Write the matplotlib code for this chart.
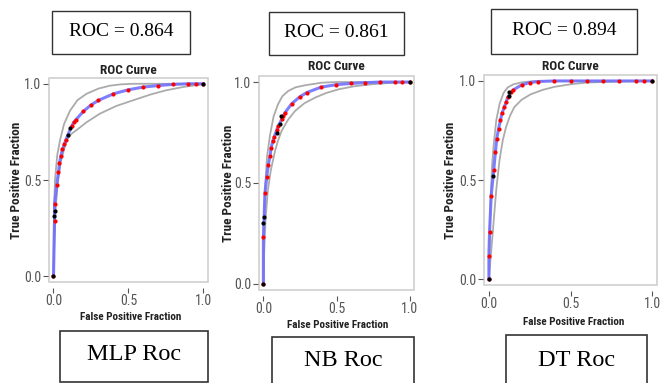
import matplotlib
matplotlib.use('Agg')
import matplotlib.pyplot as plt
from matplotlib import font_manager
from matplotlib.patches import Rectangle

W, H = 666, 383

models = ['MLP Roc', 'NB Roc', 'DT Roc']
auc_labels = ['ROC = 0.864', 'ROC = 0.861', 'ROC = 0.894']

# red threshold points (FPR, TPR)
mlp_fpr = [0.0, 0.007, 0.007, 0.022, 0.033, 0.04, 0.049, 0.06, 0.073, 0.082, 0.121, 0.137, 0.15,
           0.2, 0.25, 0.3, 0.4, 0.5, 0.6, 0.7, 0.8, 0.9, 0.95, 1.0]
mlp_tpr = [0.0, 0.287, 0.373, 0.476, 0.54, 0.588, 0.625, 0.66, 0.686, 0.708, 0.78, 0.802, 0.814,
           0.857, 0.89, 0.914, 0.948, 0.969, 0.983, 0.991, 0.997, 1.0, 1.0, 1.0]
nb_fpr = [0.0, 0.0, 0.011, 0.023, 0.034, 0.046, 0.053, 0.064, 0.075, 0.091, 0.103, 0.126, 0.137,
          0.148, 0.194, 0.247, 0.297, 0.395, 0.498, 0.598, 0.696, 0.8, 0.9, 0.95, 1.0]
nb_tpr = [0.0, 0.231, 0.451, 0.53, 0.59, 0.636, 0.674, 0.707, 0.73, 0.762, 0.784, 0.816, 0.833,
          0.849, 0.893, 0.926, 0.948, 0.975, 0.987, 0.993, 0.997, 1.0, 1.0, 1.0, 1.0]
dt_fpr = [0.0, 0.0, 0.004, 0.014, 0.03, 0.04, 0.048, 0.059, 0.071, 0.081, 0.095, 0.105, 0.115,
          0.135, 0.15, 0.2, 0.25, 0.3, 0.4, 0.5, 0.6, 0.7, 0.8, 0.9, 0.95, 1.0]
dt_tpr = [0.0, 0.117, 0.237, 0.42, 0.553, 0.642, 0.708, 0.758, 0.803, 0.838, 0.87, 0.892, 0.917,
          0.942, 0.955, 0.98, 0.992, 0.997, 1.0, 1.0, 1.0, 1.0, 1.0, 1.0, 1.0, 1.0]

# black points
mlp_bx = [0.0, 0.004, 0.01, 0.1, 0.11, 1.0]
mlp_by = [0.0, 0.313, 0.34, 0.735, 0.77, 1.0]
nb_bx = [0.0, 0.0, 0.007, 0.091, 0.114, 0.12, 1.0]
nb_by = [0.0, 0.303, 0.333, 0.75, 0.79, 0.833, 1.0]
dt_bx = [0.0, 0.028, 0.125, 0.125, 1.0]
dt_by = [0.0, 0.52, 0.925, 0.942, 1.0]

# confidence band, upper and lower
mlp_up_x = [0.0, 0.003, 0.01, 0.025, 0.044, 0.07, 0.11, 0.16, 0.22, 0.3, 0.375, 0.45, 0.53, 0.7, 1.0]
mlp_up_y = [0.0, 0.33, 0.5, 0.63, 0.708, 0.79, 0.86, 0.915, 0.948, 0.975, 0.99, 0.997, 1.0, 1.0, 1.0]
mlp_lo_x = [0.0, 0.005, 0.015, 0.03, 0.05, 0.088, 0.12, 0.155, 0.22, 0.31, 0.42, 0.53, 0.65, 0.75, 0.87, 0.97, 1.0]
mlp_lo_y = [0.0, 0.18, 0.36, 0.5, 0.6, 0.708, 0.74, 0.76, 0.8, 0.845, 0.885, 0.914, 0.945, 0.966, 0.984, 0.995, 1.0]
nb_up_x = [0.0, 0.003, 0.01, 0.025, 0.046, 0.07, 0.1, 0.13, 0.17, 0.22, 0.285, 0.4, 0.5, 0.63, 1.0]
nb_up_y = [0.0, 0.3, 0.46, 0.63, 0.74, 0.83, 0.89, 0.93, 0.956, 0.974, 0.984, 0.997, 1.0, 1.0, 1.0]
nb_lo_x = [0.0, 0.005, 0.015, 0.03, 0.05, 0.08, 0.1, 0.126, 0.17, 0.217, 0.28, 0.354, 0.43, 0.514, 0.62, 0.742, 0.87, 1.0]
nb_lo_y = [0.0, 0.15, 0.32, 0.46, 0.56, 0.66, 0.71, 0.76, 0.815, 0.857, 0.895, 0.923, 0.946, 0.964, 0.979, 0.989, 0.996, 1.0]
dt_up_x = [0.0, 0.005, 0.01, 0.02, 0.03, 0.045, 0.065, 0.09, 0.115, 0.15, 0.196, 0.25, 0.3, 1.0]
dt_up_y = [0.0, 0.25, 0.4, 0.58, 0.683, 0.8, 0.883, 0.94, 0.967, 0.983, 0.992, 0.997, 1.0, 1.0]
dt_lo_x = [0.0, 0.01, 0.02, 0.03, 0.045, 0.065, 0.085, 0.105, 0.13, 0.155, 0.2, 0.257, 0.33, 0.4, 0.5, 0.6, 0.8, 1.0]
dt_lo_y = [0.0, 0.1, 0.2, 0.3, 0.45, 0.6, 0.7, 0.767, 0.825, 0.867, 0.905, 0.933, 0.955, 0.97, 0.983, 0.992, 0.997, 1.0]

curves = [(mlp_fpr, mlp_tpr), (nb_fpr, nb_tpr), (dt_fpr, dt_tpr)]
blacks = [(mlp_bx, mlp_by), (nb_bx, nb_by), (dt_bx, dt_by)]
bands = [(mlp_up_x, mlp_up_y, mlp_lo_x, mlp_lo_y),
         (nb_up_x, nb_up_y, nb_lo_x, nb_lo_y),
         (dt_up_x, dt_up_y, dt_lo_x, dt_lo_y)]

# pixel layout: (left, right, top, bottom) of each frame
frames = [(49, 208, 78, 282), (259, 414, 76, 290), (484, 657, 75, 285)]
ylabel_x = [17, 228, 450]
title_y = [71, 67, 67]
xlabel_pos = [(131, 317), (338, 325), (574, 322)]
top_boxes = [(52, 190, 11, 54), (269, 404, 12, 55), (491, 637, 9, 54)]
bot_boxes = [(60, 208, 331, 382), (272, 414, 337, 392), (506, 647, 335, 392)]
bot_text_y = [355, 360, 360]

# pick a narrow sans font if one is installed
installed = {f.name for f in font_manager.fontManager.ttflist}
narrow_name = next((n for n in ['Liberation Sans Narrow', 'Arial Narrow', 'DejaVu Sans Condensed',
                                'Roboto Condensed', 'Open Sans Condensed', 'Noto Sans Condensed']
                    if n in installed), None)
if narrow_name:
    sans = dict(family=[narrow_name, 'DejaVu Sans'])
    scale = 1.0
else:
    sans = dict(family=['DejaVu Sans'], fontstretch='condensed')
    scale = 0.8
serif = ['Liberation Serif', 'DejaVu Serif']

fig = plt.figure(figsize=(W / 100, H / 100), dpi=100)


def fx(px):
    return px / W


def fy(py):
    return 1 - py / H


for i in range(3):
    l, r, t, b = frames[i]
    ax = fig.add_axes([fx(l), fy(b), fx(r - l), (b - t) / H])
    # spine placement first: it resets the ticks
    for s in ax.spines.values():
        s.set_visible(False)
    ax.spines['bottom'].set_position(('outward', 4))
    ax.spines['left'].set_position(('outward', 1))

    ux, uy, lx, ly = bands[i]
    ax.plot(ux, uy, color='#ababab', lw=1.3)
    ax.plot(lx, ly, color='#ababab', lw=1.3)
    x, y = curves[i]
    ax.plot(x, y, color='#7070ff', lw=2.2, alpha=0.9)
    ax.plot(x, y, 'o', color='red', ms=3, mec='none')
    bx, by = blacks[i]
    ax.plot(bx, by, 'o', color='black', ms=3, mec='none')
    ax.set_xlim(-0.03, 1.03)
    ax.set_ylim(-0.03, 1.03)
    ax.set_xticks([0, 0.5, 1.0])
    ax.set_yticks([0, 0.5, 1.0])
    ax.set_xticklabels(['0.0', '0.5', '1.0'], fontsize=10 * scale, color='#555555', **sans)
    ax.set_yticklabels(['0.0', '0.5', '1.0'], fontsize=10 * scale, color='#555555', **sans)
    ax.add_patch(Rectangle((0, 0), 1, 1, transform=ax.transAxes, fill=False,
                           ec='#d0d0d0', lw=1.2, clip_on=False))
    ax.tick_params(length=3.5, width=0.8, color='#555555', pad=1)
    fig.text(fx((l + r) / 2), fy(title_y[i]), 'ROC Curve', ha='center', va='center',
             fontsize=9.5 * scale, fontweight='bold', color='#222222', **sans)
    lx0, ly0 = xlabel_pos[i]
    fig.text(fx(lx0), fy(ly0), 'False Positive Fraction', ha='center',
             va='center', fontsize=8 * scale, fontweight='bold', color='#222222', **sans)
    fig.text(fx(ylabel_x[i]), fy((t + b) / 2), 'True Positive Fraction', ha='center',
             va='center', rotation=90, fontsize=9.5 * scale, fontweight='bold',
             color='#222222', **sans)

    bl, br, bt, bb = top_boxes[i]
    fig.add_artist(Rectangle((fx(bl), fy(bb)), fx(br - bl), (bb - bt) / H,
                             transform=fig.transFigure, fill=False, ec='#333333', lw=1))
    fig.text(fx((bl + br) / 2), fy((bt + bb) / 2 - 1), auc_labels[i], ha='center', va='center',
             family=serif, fontsize=14, color='black')

    bl, br, bt, bb = bot_boxes[i]
    fig.add_artist(Rectangle((fx(bl), fy(bb)), fx(br - bl), (bb - bt) / H,
                             transform=fig.transFigure, fill=False, ec='#333333', lw=1.2))
    fig.text(fx((bl + br) / 2), fy(bot_text_y[i]), models[i], ha='center', va='center',
             family=serif, fontsize=17.5, color='black')

fig.savefig('out.png', dpi=100)
